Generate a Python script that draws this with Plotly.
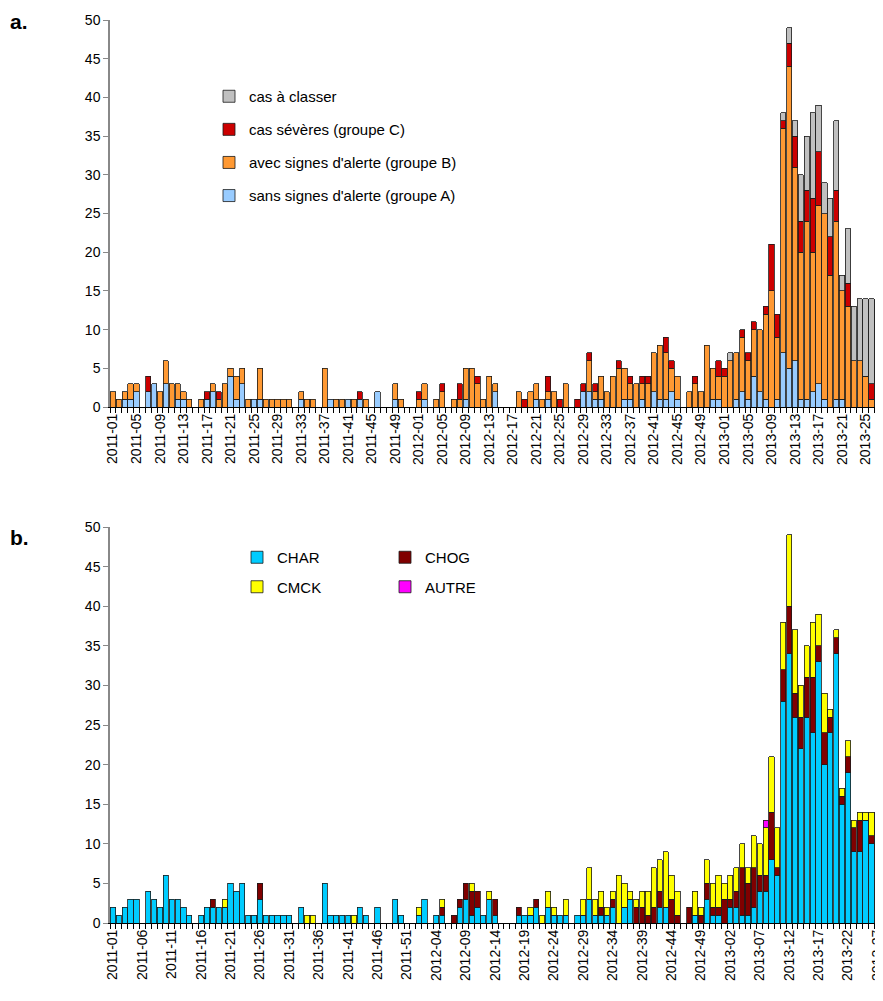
import plotly.graph_objects as go

# browser window size and the page's default body margin
WIN_W, WIN_H, OFF = 883, 1001, 8
W, H = WIN_W - OFF, WIN_H - OFF

# ISO-week categories 2011-01 .. 2013-28
weeks = [f"{y}-{w:02d}" for y, n in ((2011, 52), (2012, 52), (2013, 28)) for w in range(1, n + 1)]

# ---------------- panel a ----------------
sans_A = [0, 0, 1, 1, 2, 0, 2, 3, 0, 3,
          0, 1, 1, 0, 0, 0, 1, 2, 0, 0,
          4, 1, 3, 0, 1, 1, 0, 0, 0, 0,
          0, 0, 1, 0, 0, 0, 0, 1, 0, 0,
          1, 0, 1, 0, 0, 2, 0, 0, 1, 0,
          0, 0, 0, 1, 0, 0, 0, 0, 0, 0,
          1, 0, 0, 0, 0, 2, 0, 0, 0, 0,
          0, 0, 1, 0, 1, 0, 0, 0, 0, 0,
          2, 2, 1, 1, 0, 0, 0, 1, 1, 0,
          1, 0, 2, 1, 1, 2, 1, 0, 0, 0,
          0, 0, 1, 1, 0, 0, 1, 2, 1, 4,
          2, 1, 0, 1, 7, 5, 6, 1, 1, 2,
          3, 1, 0, 1, 1, 0, 0, 0, 0, 0, 0, 0]
avec_B = [2, 1, 1, 2, 1, 0, 0, 0, 2, 3,
          3, 2, 1, 1, 0, 1, 0, 1, 1, 3,
          1, 3, 2, 1, 0, 4, 1, 1, 1, 1,
          1, 0, 1, 1, 1, 0, 5, 0, 1, 1,
          0, 1, 0, 1, 0, 0, 0, 0, 2, 1,
          0, 0, 1, 2, 0, 1, 2, 0, 1, 1,
          4, 5, 3, 1, 4, 1, 0, 0, 0, 2,
          0, 2, 2, 1, 1, 2, 0, 3, 0, 0,
          0, 4, 1, 3, 2, 4, 5, 4, 2, 3,
          2, 3, 5, 7, 6, 3, 3, 0, 2, 3,
          2, 8, 4, 3, 4, 6, 6, 7, 5, 6,
          8, 11, 15, 8, 29, 39, 25, 19, 23, 18,
          23, 24, 17, 23, 14, 13, 6, 6, 4, 1, 2, 0]
severe_C = [0, 0, 0, 0, 0, 0, 2, 0, 0, 0,
            0, 0, 0, 0, 0, 0, 1, 0, 1, 0,
            0, 0, 0, 0, 0, 0, 0, 0, 0, 0,
            0, 0, 0, 0, 0, 0, 0, 0, 0, 0,
            0, 0, 1, 0, 0, 0, 0, 0, 0, 0,
            0, 0, 1, 0, 0, 0, 1, 0, 0, 2,
            0, 0, 1, 0, 0, 0, 0, 0, 0, 0,
            1, 0, 0, 0, 2, 0, 1, 0, 0, 1,
            1, 1, 1, 0, 0, 0, 1, 0, 1, 0,
            1, 1, 0, 0, 2, 1, 0, 0, 0, 1,
            0, 0, 0, 2, 1, 0, 0, 1, 1, 1,
            0, 1, 6, 3, 1, 3, 4, 4, 4, 7,
            7, 0, 5, 4, 0, 3, 0, 0, 0, 2, 1, 0]
a_classer = [0] * 105 + [1] + [0] * 8 + [1, 2, 2, 6, 7, 11,
                                         6, 4, 5, 9, 2, 7, 7, 8, 10, 11, 11, 4]

# ---------------- panel b ----------------
char = [2, 1, 2, 3, 3, 0, 4, 3, 2, 6,
        3, 3, 2, 1, 0, 1, 2, 2, 2, 2,
        5, 4, 5, 1, 1, 3, 1, 1, 1, 1,
        1, 0, 2, 0, 0, 0, 5, 1, 1, 1,
        1, 0, 2, 1, 0, 2, 0, 0, 3, 1,
        0, 0, 1, 3, 0, 1, 1, 0, 0, 2,
        3, 1, 2, 1, 3, 1, 0, 0, 0, 1,
        1, 1, 2, 0, 2, 1, 1, 1, 0, 1,
        1, 3, 1, 1, 1, 2, 0, 2, 3, 0,
        0, 0, 0, 2, 2, 0, 0, 0, 0, 1,
        0, 3, 1, 1, 0, 2, 2, 1, 1, 2,
        4, 4, 8, 6, 28, 34, 26, 22, 26, 24,
        33, 20, 24, 34, 15, 19, 9, 9, 13, 10, 13, 4]
chog = [0, 0, 0, 0, 0, 0, 0, 0, 0, 0,
        0, 0, 0, 0, 0, 0, 0, 1, 0, 0,
        0, 0, 0, 0, 0, 2, 0, 0, 0, 0,
        0, 0, 0, 0, 0, 0, 0, 0, 0, 0,
        0, 0, 0, 0, 0, 0, 0, 0, 0, 0,
        0, 0, 0, 0, 0, 0, 1, 0, 1, 1,
        2, 3, 2, 0, 0, 2, 0, 0, 0, 1,
        0, 0, 1, 0, 0, 0, 0, 0, 0, 0,
        0, 0, 0, 1, 0, 1, 0, 0, 0, 2,
        2, 1, 2, 2, 0, 3, 1, 0, 2, 0,
        1, 2, 1, 1, 3, 1, 2, 6, 4, 5,
        2, 2, 6, 1, 4, 6, 3, 4, 5, 7,
        2, 4, 2, 2, 1, 2, 3, 4, 0, 1, 0, 0]
cmck = [0, 0, 0, 0, 0, 0, 0, 0, 0, 0,
        0, 0, 0, 0, 0, 0, 0, 0, 0, 1,
        0, 0, 0, 0, 0, 0, 0, 0, 0, 0,
        0, 0, 0, 1, 1, 0, 0, 0, 0, 0,
        0, 1, 0, 0, 0, 0, 0, 0, 0, 0,
        0, 0, 1, 0, 0, 0, 1, 0, 0, 0,
        0, 1, 0, 0, 1, 0, 0, 0, 0, 0,
        0, 1, 0, 1, 2, 1, 0, 2, 0, 0,
        2, 4, 2, 2, 1, 1, 6, 3, 1, 1,
        2, 3, 5, 4, 7, 3, 3, 0, 0, 3,
        1, 3, 3, 4, 2, 3, 3, 3, 2, 4,
        4, 6, 7, 5, 6, 9, 8, 4, 4, 7,
        4, 5, 1, 1, 1, 2, 1, 1, 1, 3, 1, 0]
autre = [0] * 111 + [1] + [0] * 20

ticklabels_a = [w if i % 4 == 0 else "" for i, w in enumerate(weeks)]
ticklabels_b = [w if i % 5 == 0 else "" for i, w in enumerate(weeks)]

FONT = "Liberation Sans, Arial, sans-serif"
EDGE = dict(color="#1a1a1a", width=0.8)


def px(x):
    return (x - OFF) / W


def py(y):
    return 1 - (y - OFF) / H


def nz(vals):
    return [v if v else None for v in vals]


fig = go.Figure()

series_a = [
    ("sans signes d'alerte (groupe A)", sans_A, "#99CCFF", 4),
    ("avec signes d'alerte (groupe B)", avec_B, "#FF9933", 3),
    ("cas sévères (groupe C)", severe_C, "#CC0000", 2),
    ("cas à classer", a_classer, "#C0C0C0", 1),
]
for name, vals, col, rank in series_a:
    fig.add_trace(go.Bar(x=weeks, y=nz(vals), name=name, xaxis="x", yaxis="y",
                         marker=dict(color=col, line=EDGE), legendrank=rank,
                         legend="legend", legendgroup=name))

series_b = [
    ("CHAR", char, "#00CCFF", "legend2", 1),
    ("CHOG", chog, "#800000", "legend3", 1),
    ("CMCK", cmck, "#FFFF00", "legend2", 2),
    ("AUTRE", autre, "#FF00FF", "legend3", 2),
]
for name, vals, col, lg, rank in series_b:
    fig.add_trace(go.Bar(x=weeks, y=nz(vals), name=name, xaxis="x2", yaxis="y2",
                         marker=dict(color=col, line=EDGE), legendrank=rank,
                         legend=lg, legendgroup=name))

nvis = (WIN_W - 110) / 5.88
xrange = [-0.5, -0.5 + nvis]


def xax(ticktext, anchor):
    return dict(domain=[px(110), 1], anchor=anchor, type="category", range=xrange,
                tickmode="array", tickvals=weeks, ticktext=ticktext,
                tickson="boundaries", ticks="outside", ticklen=5, tickwidth=1,
                tickcolor="#000", showline=True, linecolor="#000", linewidth=1,
                tickangle=-90, tickfont=dict(size=14, color="#000", family=FONT),
                showgrid=False, zeroline=False, automargin=False, fixedrange=True)


def yax(top_px, bot_px, anchor):
    return dict(domain=[py(bot_px), py(top_px)], anchor=anchor, range=[0, 50],
                tick0=0, dtick=5, ticks="outside", ticklen=5, tickwidth=1,
                tickcolor="#888", showline=True, linecolor="#888", linewidth=1.5,
                tickfont=dict(size=14, color="#000", family=FONT),
                showgrid=False, zeroline=False, automargin=False, fixedrange=True)


leg_font = dict(size=15, color="#000", family=FONT)

fig.update_layout(
    width=W, height=H,
    margin=dict(l=0, r=0, t=0, b=0),
    paper_bgcolor="white", plot_bgcolor="white",
    barmode="stack", bargap=0.12,
    font=dict(family=FONT, color="#000"),
    xaxis=xax(ticklabels_a, "y"),
    yaxis=yax(20, 407, "x"),
    xaxis2=xax(ticklabels_b, "y2"),
    yaxis2=yax(527, 923, "x2"),
    legend=dict(x=px(209), y=py(80), xanchor="left", yanchor="top",
                traceorder="grouped", tracegroupgap=10.6, font=leg_font,
                bgcolor="rgba(0,0,0,0)", itemwidth=30, itemclick=False),
    legend2=dict(x=px(237), y=py(541), xanchor="left", yanchor="top",
                 traceorder="grouped", tracegroupgap=7, font=leg_font,
                 bgcolor="rgba(0,0,0,0)", itemwidth=30, itemclick=False),
    legend3=dict(x=px(385), y=py(541), xanchor="left", yanchor="top",
                 traceorder="grouped", tracegroupgap=7, font=leg_font,
                 bgcolor="rgba(0,0,0,0)", itemwidth=30, itemclick=False),
    annotations=[
        dict(text="<b>a.</b>", x=px(8), y=py(22), xref="paper", yref="paper",
             xanchor="left", yanchor="middle", showarrow=False,
             font=dict(size=21, color="#000", family=FONT)),
        dict(text="<b>b.</b>", x=px(8), y=py(537), xref="paper", yref="paper",
             xanchor="left", yanchor="middle", showarrow=False,
             font=dict(size=21, color="#000", family=FONT)),
    ],
)

fig.write_html("out.html")
